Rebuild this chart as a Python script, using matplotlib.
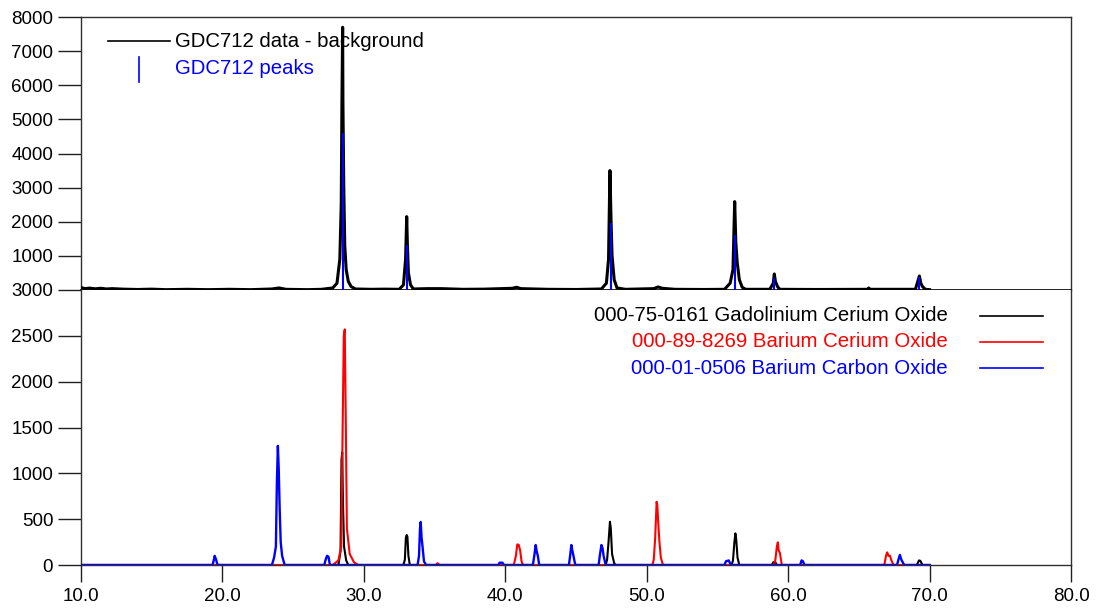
import matplotlib
matplotlib.use("Agg")
import matplotlib.pyplot as plt
from matplotlib.ticker import FormatStrFormatter

plt.rcParams['font.family'] = ['Liberation Sans', 'DejaVu Sans']

# ---------------- data ----------------
# Top panel: measured pattern (data - background), 2theta vs counts
data_x = [10.0, 10.3, 10.6, 11.0, 11.4, 11.8, 12.2, 13.0, 14.0, 15.0, 16.0, 17.5, 19.0, 20.5, 22.0,
          23.5, 24.0, 24.5, 26.0, 27.0, 27.8, 28.1, 28.3, 28.4, 28.45, 28.5, 28.52, 28.58, 28.65,
          28.75, 28.9, 29.1, 29.4, 30.5, 31.5, 32.5, 32.8, 32.95, 33.03, 33.08, 33.15, 33.3, 33.5,
          34.5, 35.5, 37.0, 38.5, 40.5, 40.8, 41.1, 43.0, 45.0, 46.8, 47.15, 47.3, 47.4, 47.48,
          47.55, 47.7, 47.9, 48.5, 50.5, 50.8, 51.1, 51.4, 52.0, 54.0, 55.5, 55.9, 56.1, 56.22,
          56.3, 56.4, 56.55, 56.75, 57.0, 58.7, 58.95, 59.02, 59.1, 59.25, 59.4, 62.0, 65.6, 65.7,
          65.8, 69.0, 69.2, 69.28, 69.38, 69.5, 69.7, 70.0]
data_y = [70, 40, 55, 35, 50, 30, 40, 25, 15, 25, 10, 20, 10, 20, 10,
          30, 60, 20, 10, 20, 60, 200, 900, 2500, 5500, 7700, 5500, 3000, 1300,
          600, 250, 100, 30, 20, 25, 20, 150, 900, 2150, 1300, 500, 150, 30,
          40, 40, 20, 25, 50, 80, 40, 20, 15, 30, 200, 900, 3500, 2000,
          1000, 300, 60, 20, 40, 90, 50, 40, 20, 15, 20, 200, 600, 2590,
          1400, 800, 300, 80, 20, 20, 200, 470, 250, 100, 20, 15, 20, 60,
          20, 20, 300, 410, 200, 100, 20, 10]

# Top panel: peak list (stems)
peak_pos = [28.5, 33.05, 47.45, 56.25, 59.02, 69.28]
peak_int = [4590, 1320, 1960, 1610, 350, 390]

# Bottom panel: reference patterns
gdc_x = [10.0, 28.2, 28.35, 28.42, 28.47, 28.52, 28.6, 28.75, 28.9,
         32.8, 32.9, 32.97, 33.03, 33.08, 33.15, 33.25,
         47.1, 47.2, 47.3, 47.4, 47.46, 47.55, 47.7, 47.8,
         56.0, 56.1, 56.2, 56.27, 56.33, 56.42, 56.55,
         58.85, 58.95, 59.1, 59.2,
         69.1, 69.25, 69.35, 69.5, 70.0]
gdc_y = [0, 0, 150, 1150, 1230, 700, 200, 50, 0,
         0, 60, 300, 327, 310, 100, 0,
         0, 60, 250, 472, 400, 120, 20, 0,
         0, 50, 250, 345, 280, 80, 0,
         0, 30, 30, 0,
         0, 50, 45, 0, 0]

bco_x = [10.0, 27.8, 28.2, 28.4, 28.5, 28.58, 28.65, 28.72, 28.8, 29.0, 29.3, 29.6,
         35.1, 35.2, 35.35,
         40.6, 40.75, 40.85, 40.95, 41.05, 41.15, 41.25,
         50.4, 50.5, 50.6, 50.7, 50.75, 50.82, 50.9, 51.0, 51.15,
         59.0, 59.1, 59.2, 59.27, 59.33, 59.42, 59.55,
         66.8, 66.92, 67.0, 67.1, 67.2, 67.3, 67.45, 70.0]
bco_y = [0, 0, 50, 200, 1500, 2500, 2570, 1600, 400, 120, 30, 0,
         0, 20, 0,
         0, 100, 225, 220, 160, 40, 0,
         0, 60, 300, 690, 650, 450, 250, 80, 0,
         0, 60, 200, 247, 160, 130, 0,
         0, 100, 138, 100, 100, 50, 0, 0]

bca_x = [10.0, 19.3, 19.4, 19.45, 19.55, 19.65,
         23.5, 23.65, 23.78, 23.85, 23.92, 23.98, 24.05, 24.12, 24.22, 24.4,
         27.2, 27.3, 27.4, 27.5, 27.6,
         33.8, 33.9, 33.97, 34.02, 34.08, 34.15, 34.25, 34.4,
         39.5, 39.6, 39.8, 39.9,
         41.95, 42.05, 42.15, 42.22, 42.3, 42.4,
         44.5, 44.6, 44.67, 44.75, 44.82, 44.95,
         46.6, 46.7, 46.8, 46.88, 46.95, 47.1,
         55.5, 55.6, 55.8, 55.95,
         60.85, 60.95, 61.05, 61.15,
         67.7, 67.8, 67.9, 68.0, 68.1, 68.2, 70.0]
bca_y = [0, 0, 60, 100, 60, 0,
         0, 80, 200, 900, 1300, 1050, 600, 250, 100, 0,
         0, 60, 100, 90, 0,
         0, 100, 400, 470, 300, 200, 40, 0,
         0, 25, 25, 0,
         0, 100, 218, 150, 100, 0,
         0, 120, 218, 150, 100, 0,
         0, 120, 218, 180, 100, 0,
         0, 40, 50, 0,
         0, 50, 40, 0,
         0, 60, 110, 60, 30, 0, 0]

top_labels = ["GDC712 data - background", "GDC712 peaks"]
ref_labels = ["000-75-0161 Gadolinium Cerium Oxide",
              "000-89-8269 Barium Cerium Oxide",
              "000-01-0506 Barium Carbon Oxide"]
ref_colors = ["#000000", "#ff0000", "#0000ff"]

x_ticks = [10, 20, 30, 40, 50, 60, 70, 80]
top_yticks = [1000, 2000, 3000, 4000, 5000, 6000, 7000, 8000]
bot_yticks = [0, 500, 1000, 1500, 2000, 2500, 3000]

# ---------------- figure ----------------
W, H = 1101, 609
fig = plt.figure(figsize=(W / 100, H / 100), dpi=100)

L, R = 81, 1071
ax_top = fig.add_axes([L / W, (H - 290) / H, (R - L) / W, (290 - 17) / H])
ax_bot = fig.add_axes([L / W, (H - 565) / H, (R - L) / W, (565 - 290) / H])

FS = 13.5    # tick labels
LFS = 14.7   # legend texts
for ax in (ax_top, ax_bot):
    ax.set_xlim(10, 80)
    ax.tick_params(axis='y', direction='out', length=16.5, width=1, pad=3.5,
                   labelsize=FS, colors='#202020', labelcolor='black')
    for s in ax.spines.values():
        s.set_linewidth(1)
        s.set_color('#303030')

# top panel
ax_top.plot(data_x, data_y, color='black', lw=2.2, zorder=3)
ax_top.vlines(peak_pos, 0, peak_int, colors='#0000ff', lw=1.5, zorder=4)
ax_top.set_ylim(0, 8000)
ax_top.set_yticks(top_yticks)
ax_top.set_xticks([])
ax_top.spines['bottom'].set_linewidth(1.2)
ax_top.spines['bottom'].set_color('black')

# legend (top)
ax_top.plot([0.0273, 0.0899], [0.912, 0.912], transform=ax_top.transAxes,
            color='black', lw=1.2)
ax_top.text(0.0949, 0.912, top_labels[0], transform=ax_top.transAxes,
            ha='left', va='center', fontsize=LFS, color='black')
ax_top.plot([0.0586, 0.0586], [0.762, 0.853], transform=ax_top.transAxes,
            color='#0000ff', lw=1.2)
ax_top.text(0.0949, 0.813, top_labels[1], transform=ax_top.transAxes,
            ha='left', va='center', fontsize=LFS, color='#0000ff')

# bottom panel
ax_bot.plot(gdc_x, gdc_y, color=ref_colors[0], lw=1.5, zorder=3)
ax_bot.plot(bco_x, bco_y, color=ref_colors[1], lw=1.5, zorder=4)
ax_bot.plot(bca_x, bca_y, color=ref_colors[2], lw=1.7, zorder=5)
ax_bot.set_ylim(0, 3000)
ax_bot.set_yticks(bot_yticks)
ax_bot.set_xticks(x_ticks)
ax_bot.xaxis.set_major_formatter(FormatStrFormatter('%.1f'))
ax_bot.tick_params(axis='x', direction='out', length=12.5, width=1, pad=4,
                   labelsize=FS, colors='#202020', labelcolor='black')
ax_bot.spines['top'].set_visible(False)

ys = [0.9055, 0.811, 0.716]
for lab, col, yy in zip(ref_labels, ref_colors, ys):
    ax_bot.text(0.8758, yy, lab, transform=ax_bot.transAxes, ha='right',
                va='center', fontsize=LFS, color=col)
    ax_bot.plot([0.908, 0.972], [yy, yy], transform=ax_bot.transAxes,
                color=col, lw=1.2)

fig.savefig("out.png", dpi=100)
